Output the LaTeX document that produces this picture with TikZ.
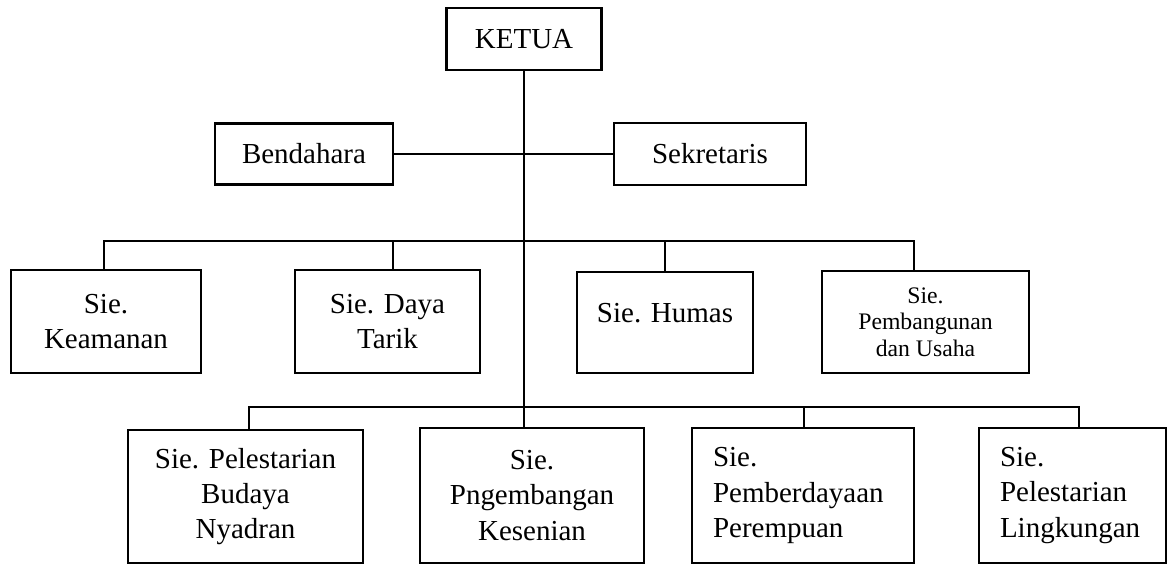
\documentclass[tikz,border=0pt]{standalone}
\usepackage{fontspec}
\setmainfont{Liberation Serif}
\usepackage{tikz}
\usetikzlibrary{positioning}
\usetikzlibrary{calc}
\newcommand{\orgfont}{\fontsize{16.5}{20}\selectfont}
\newcommand{\orgsmall}{\fontsize{13.5}{15}\selectfont}
\tikzset{
    orgbox/.style={draw=black, line width=1.3pt, inner sep=0pt, align=center, font=\orgfont},
    orgline/.style={draw=black, line width=1.3pt},
    leftbox/.style={orgbox, align=left}
}

\begin{document}
\begin{tikzpicture}[x=0.02cm,y=-0.02cm]
	\useasboundingbox (0,0) rectangle (1168,565);
	% pimpinan
	\node[orgbox, minimum width=3.1cm, minimum height=1.24cm] (ketua) at (524,39) {KETUA};
	\node[orgbox, minimum width=3.56cm, minimum height=1.22cm] (bendahara) at (304,154) {Bendahara};
	\node[orgbox, minimum width=3.84cm, minimum height=1.24cm] (sekretaris) at (710,154) {Sekretaris};
	% seksi baris atas
	\node[orgbox, minimum width=3.8cm, minimum height=2.06cm] (keamanan) at (106,321.5) {Sie.\\Keamanan};
	\node[orgbox, minimum width=3.7cm, minimum height=2.06cm] (dayatarik) at (387.5,321.5) {Sie. Daya\\Tarik};
	\node[orgbox, minimum width=3.52cm, minimum height=2.02cm, text height=11pt, text depth=11pt] (humas) at (665,322.5) {Sie. Humas};
	\node[orgbox, minimum width=4.14cm, minimum height=2.04cm, font=\orgsmall] (pembangunan) at (925.5,322) {Sie.\\Pembangunan\\dan Usaha};
	% seksi baris bawah
	\node[orgbox, minimum width=4.7cm, minimum height=2.66cm] (budaya) at (245.5,496.5) {Sie. Pelestarian\\Budaya\\Nyadran};
	\node[orgbox, minimum width=4.48cm, minimum height=2.7cm] (kesenian) at (532,495.5) {Sie.\\Pngembangan\\Kesenian};
	\node[leftbox, minimum width=4.44cm, minimum height=2.7cm, text width=3.6cm] (perempuan) at (803,495.5) {Sie.\\Pemberdayaan\\Perempuan};
	\node[leftbox, minimum width=3.74cm, minimum height=2.7cm, text width=2.9cm] (lingkungan) at (1072.5,495.5) {Sie.\\Pelestarian\\Lingkungan};
	% titik cabang
	\coordinate (t1) at (104,241);
	\coordinate (t2) at (393,241);
	\coordinate (t3) at (665,241);
	\coordinate (t4) at (914,241);
	\coordinate (b1) at (249,407);
	\coordinate (b3) at (804,407);
	\coordinate (b4) at (1079,407);
	% garis
	\draw[orgline] (ketua.south) -- (ketua.south |- kesenian.north);
	\draw[orgline] (bendahara.east) -- (sekretaris.west);
	\draw[orgline] (t1 |- keamanan.north) -- (t1) -- (t4) -- (t4 |- pembangunan.north);
	\draw[orgline] (t2) -- (t2 |- dayatarik.north);
	\draw[orgline] (t3) -- (humas.north);
	\draw[orgline] (b1 |- budaya.north) -- (b1) -- (b4) -- (b4 |- lingkungan.north);
	\draw[orgline] (b3) -- (b3 |- perempuan.north);
\end{tikzpicture}
\end{document}
